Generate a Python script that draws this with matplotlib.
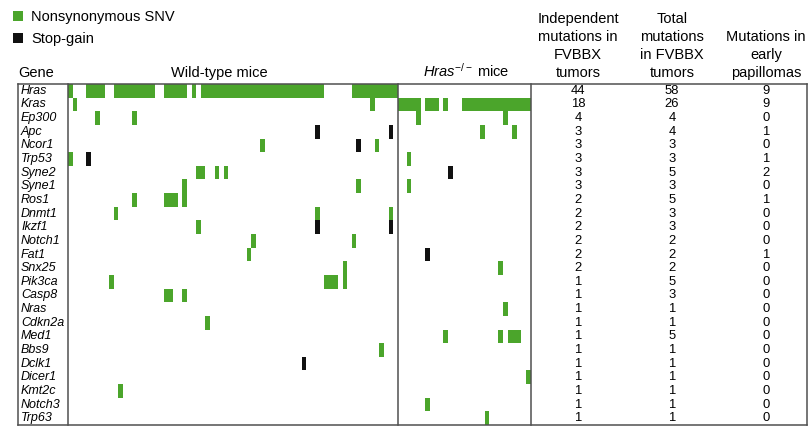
import matplotlib
matplotlib.use("Agg")
import matplotlib.pyplot as plt
from matplotlib.lines import Line2D
from matplotlib.patches import Rectangle

plt.rcParams["font.family"] = ["Liberation Sans", "DejaVu Sans"]
plt.rcParams["mathtext.fontset"] = "custom"
plt.rcParams["mathtext.rm"] = "Liberation Sans"
plt.rcParams["mathtext.it"] = "Liberation Sans:italic"

# ---------------- data ----------------
genes = ["Hras", "Kras", "Ep300", "Apc", "Ncor1", "Trp53", "Syne2", "Syne1",
         "Ros1", "Dnmt1", "Ikzf1", "Notch1", "Fat1", "Snx25", "Pik3ca", "Casp8",
         "Nras", "Cdkn2a", "Med1", "Bbs9", "Dclk1", "Dicer1", "Kmt2c", "Notch3",
         "Trp63"]
independent = [44, 18, 4, 3, 3, 3, 3, 3, 2, 2, 2, 2, 2, 2, 1, 1, 1, 1, 1, 1, 1, 1, 1, 1, 1]
total = [58, 26, 4, 4, 3, 3, 5, 3, 5, 3, 3, 2, 2, 2, 5, 3, 1, 1, 5, 1, 1, 1, 1, 1, 1]
early = [9, 9, 0, 1, 0, 1, 2, 0, 1, 0, 0, 0, 1, 0, 0, 0, 0, 0, 0, 0, 0, 0, 0, 0, 0]

n_wt = 72   # wild-type tumours
n_ko = 29   # Hras-/- tumours

# (gene, first tumour index, number of consecutive tumours)
wt_snv = [("Hras", 0, 1), ("Hras", 4, 4), ("Hras", 10, 9), ("Hras", 21, 5),
          ("Hras", 27, 1), ("Hras", 29, 27), ("Hras", 62, 10),
          ("Kras", 1, 1), ("Kras", 66, 1),
          ("Ep300", 6, 1), ("Ep300", 14, 1),
          ("Ncor1", 42, 1), ("Ncor1", 67, 1),
          ("Trp53", 0, 1),
          ("Syne2", 28, 2), ("Syne2", 32, 1), ("Syne2", 34, 1),
          ("Syne1", 25, 1), ("Syne1", 63, 1),
          ("Ros1", 14, 1), ("Ros1", 21, 3), ("Ros1", 25, 1),
          ("Dnmt1", 10, 1), ("Dnmt1", 54, 1), ("Dnmt1", 70, 1),
          ("Ikzf1", 28, 1),
          ("Notch1", 40, 1), ("Notch1", 62, 1),
          ("Fat1", 39, 1),
          ("Snx25", 60, 1),
          ("Pik3ca", 9, 1), ("Pik3ca", 56, 3), ("Pik3ca", 60, 1),
          ("Casp8", 21, 2), ("Casp8", 25, 1),
          ("Cdkn2a", 30, 1),
          ("Bbs9", 68, 1),
          ("Kmt2c", 11, 1)]
wt_stop = [("Apc", 54, 1), ("Apc", 70, 1), ("Ncor1", 63, 1), ("Trp53", 4, 1),
           ("Ikzf1", 54, 1), ("Ikzf1", 70, 1), ("Dclk1", 51, 1)]

ko_snv = [("Kras", 0, 5), ("Kras", 6, 3), ("Kras", 10, 1), ("Kras", 14, 15),
          ("Ep300", 4, 1), ("Ep300", 23, 1),
          ("Apc", 18, 1), ("Apc", 25, 1),
          ("Trp53", 2, 1), ("Syne1", 2, 1),
          ("Snx25", 22, 1), ("Nras", 23, 1),
          ("Med1", 10, 1), ("Med1", 22, 1), ("Med1", 24, 3),
          ("Dicer1", 28, 1), ("Notch3", 6, 1), ("Trp63", 19, 1)]
ko_stop = [("Syne2", 11, 1), ("Fat1", 6, 1)]

GREEN = "#4ba52b"
BLACK = "#111111"
LINE = "#505050"

# ---------------- figure ----------------
W, H = 809, 429
fig = plt.figure(figsize=(W / 100, H / 100), dpi=100)


def fx(x):
    return x / W


def fy(y):
    return 1 - y / H


top, bottom = 84, 425
x_left, x_gene, x_split, x_mat_end, x_right = 18, 68, 398.3, 530.5, 807

ax = fig.add_axes([fx(x_gene), fy(bottom), (x_mat_end - x_gene) / W, (bottom - top) / H])
ax.set_xlim(0, n_wt + n_ko)
ax.set_ylim(len(genes), 0)
ax.axis("off")

row = {g: i for i, g in enumerate(genes)}


def draw(records, offset, color):
    xs = [offset + s for _, s, _ in records]
    ws = [n for _, _, n in records]
    ys = [row[g] for g, _, _ in records]
    ax.bar(xs, [1] * len(records), width=ws, bottom=ys, align="edge",
           color=color, edgecolor="none", linewidth=0)


draw(wt_snv, 0, GREEN)
draw(wt_stop, 0, BLACK)
draw(ko_snv, n_wt, GREEN)
draw(ko_stop, n_wt, BLACK)

# table frame
frame_kw = dict(color=LINE, linewidth=1.1, transform=fig.transFigure)
for x in (x_left, x_gene, x_split, x_mat_end, x_right):
    fig.add_artist(Line2D([fx(x), fx(x)], [fy(top), fy(bottom)], **frame_kw))
for y in (top, bottom):
    fig.add_artist(Line2D([fx(x_left), fx(x_right)], [fy(y), fy(y)], **frame_kw))

# gene names and count columns
row_h = (bottom - top) / len(genes)
col_x = [578, 672, 766]
for i, g in enumerate(genes):
    yc = fy(top + row_h * (i + 0.5))
    fig.text(fx(21), yc, g, style="italic", fontsize=9, ha="left", va="center")
    for cx, vals in zip(col_x, (independent, total, early)):
        fig.text(fx(cx), yc, str(vals[i]), fontsize=9.4, ha="center", va="center")

# headers
HFS = 10.5
fig.text(fx(18), fy(77), "Gene", fontsize=HFS, ha="left", va="baseline")
fig.text(fx(219.5), fy(77), "Wild-type mice", fontsize=HFS, ha="center", va="baseline")
fig.text(fx(466), fy(77), r"$\mathit{Hras}^{-/-}$ mice", fontsize=HFS,
         ha="center", va="baseline")

headers = [["Independent", "mutations in", "FVBBX", "tumors"],
           ["Total", "mutations", "in FVBBX", "tumors"],
           ["", "Mutations in", "early", "papillomas"]]
baselines = [23, 41, 59, 77]
for cx, lines in zip(col_x, headers):
    for yb, txt in zip(baselines, lines):
        if txt:
            fig.text(fx(cx), fy(yb), txt, fontsize=HFS, ha="center", va="baseline")

# legend
for (y0, color, label, yb) in ((11, GREEN, "Nonsynonymous SNV", 21),
                               (33, BLACK, "Stop-gain", 42.5)):
    fig.add_artist(Rectangle((fx(13), fy(y0 + 10)), 10 / W, 10 / H,
                             facecolor=color, edgecolor="none",
                             transform=fig.transFigure))
    fig.text(fx(31), fy(yb), label, fontsize=HFS, ha="left", va="baseline")

fig.savefig("out.png", dpi=100, facecolor="white")
